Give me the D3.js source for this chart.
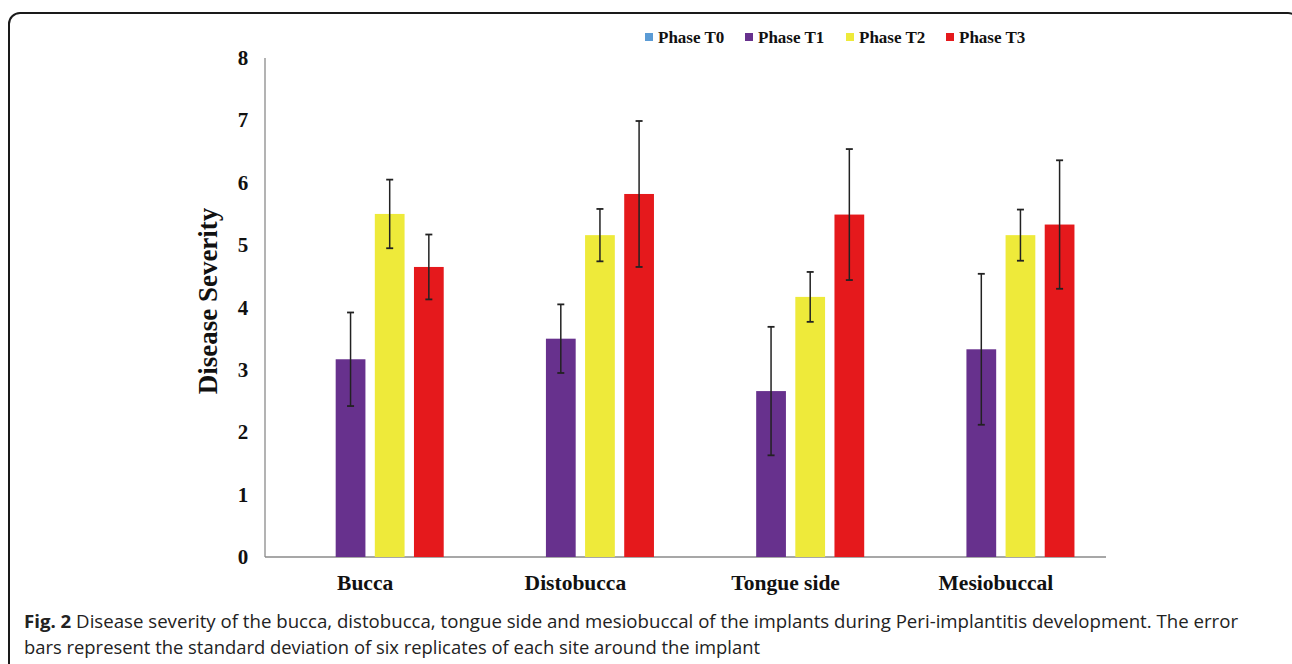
<!DOCTYPE html>
<html>
<head>
<meta charset="utf-8">
<script src="https://cdn.jsdelivr.net/npm/d3@7"></script>
<style>
  body { margin: 0; background: #fff; }
</style>
</head>
<body>
<div class="container"></div>
<script>
// data
var sites = ["Bucca", "Distobucca", "Tongue side", "Mesiobuccal"];
var phases = ["Phase T0", "Phase T1", "Phase T2", "Phase T3"];
var phaseT0 = [0, 0, 0, 0];
var phaseT1 = [3.17, 3.50, 2.66, 3.33];
var phaseT2 = [5.50, 5.16, 4.17, 5.16];
var phaseT3 = [4.65, 5.82, 5.49, 5.33];
var sdT1 = [0.75, 0.55, 1.03, 1.21];
var sdT2 = [0.55, 0.42, 0.40, 0.41];
var sdT3 = [0.52, 1.17, 1.05, 1.03];
var yTicks = [0, 1, 2, 3, 4, 5, 6, 7, 8];
var colors = ["#5b9bd5", "#67318d", "#eeea3a", "#e5191c"];

var values = [phaseT0, phaseT1, phaseT2, phaseT3];
var sds = [null, sdT1, sdT2, sdT3];

//Makes the stage
function makeStage(w, h) {
    return d3.select(".container")
      .append("svg")
      .attr("width", w)
      .attr("height", h)
      .style("display", "block");
}

var W = 1292, H = 664;
var svg = makeStage(W, H);

// frame around figure
svg.append("rect")
  .attr("x", 9).attr("y", 13)
  .attr("width", 1290).attr("height", 720)
  .attr("rx", 11).attr("ry", 11)
  .attr("fill", "none")
  .attr("stroke", "#1a1a1a")
  .attr("stroke-width", 2);

var plotL = 265, plotR = 1106, plotT = 58, plotB = 557;

var x0 = d3.scaleBand().domain(sites).range([plotL, plotR]).paddingInner(0.3).paddingOuter(0.15);
var x1 = d3.scaleBand().domain(phases).range([0, x0.bandwidth()]).paddingInner(0.24);
var y = d3.scaleLinear().domain([0, 8]).range([plotB, plotT]);

// axes lines
svg.append("line")
  .attr("x1", plotL).attr("x2", plotL)
  .attr("y1", y(8)).attr("y2", plotB)
  .attr("stroke", "#8a8a8a").attr("stroke-width", 1.3);
svg.append("line")
  .attr("x1", plotL).attr("x2", plotR)
  .attr("y1", plotB).attr("y2", plotB)
  .attr("stroke", "#8a8a8a").attr("stroke-width", 1.5);

// y tick labels
svg.selectAll(".ytick")
  .data(yTicks)
  .enter().append("text")
  .attr("x", 243)
  .attr("y", function (d) { return y(d) + 7; })
  .attr("text-anchor", "middle")
  .attr("font-family", "Liberation Serif, serif")
  .attr("font-weight", "bold")
  .attr("font-size", 21)
  .attr("fill", "#111")
  .text(function (d) { return d; });

// y title
svg.append("text")
  .attr("transform", "translate(217,301) rotate(-90)")
  .attr("text-anchor", "middle")
  .attr("font-family", "Liberation Serif, serif")
  .attr("font-weight", "bold")
  .attr("font-size", 27)
  .attr("fill", "#111")
  .text("Disease Severity");

// category labels
svg.selectAll(".xlab")
  .data(sites)
  .enter().append("text")
  .attr("x", function (d) { return x0(d) + x0.bandwidth() / 2 - 5; })
  .attr("y", 590)
  .attr("text-anchor", "middle")
  .attr("font-family", "Liberation Serif, serif")
  .attr("font-weight", "bold")
  .attr("font-size", 21.5)
  .attr("fill", "#111")
  .text(function (d) { return d; });

// bars + error bars
phases.forEach(function (p, pi) {
    var g = svg.append("g");
    g.selectAll("rect")
      .data(sites)
      .enter().append("rect")
      .attr("x", function (d) { return x0(d) + x1(p); })
      .attr("y", function (d, i) { return y(values[pi][i]); })
      .attr("width", x1.bandwidth())
      .attr("height", function (d, i) { return plotB - y(values[pi][i]); })
      .attr("fill", colors[pi]);

    if (sds[pi]) {
        var eb = g.selectAll(".err")
          .data(sites)
          .enter().append("g");
        eb.append("line")
          .attr("x1", function (d) { return x0(d) + x1(p) + x1.bandwidth() / 2; })
          .attr("x2", function (d) { return x0(d) + x1(p) + x1.bandwidth() / 2; })
          .attr("y1", function (d, i) { return y(values[pi][i] + sds[pi][i]); })
          .attr("y2", function (d, i) { return y(values[pi][i] - sds[pi][i]); })
          .attr("stroke", "#222").attr("stroke-width", 1.5);
        [1, -1].forEach(function (s) {
            eb.append("line")
              .attr("x1", function (d) { return x0(d) + x1(p) + x1.bandwidth() / 2 - 3.5; })
              .attr("x2", function (d) { return x0(d) + x1(p) + x1.bandwidth() / 2 + 3.5; })
              .attr("y1", function (d, i) { return y(values[pi][i] + s * sds[pi][i]); })
              .attr("y2", function (d, i) { return y(values[pi][i] + s * sds[pi][i]); })
              .attr("stroke", "#222").attr("stroke-width", 1.8);
        });
    }
});

// legend
var legX = [645, 745, 846, 946];
var leg = svg.selectAll(".leg")
  .data(phases)
  .enter().append("g")
  .attr("transform", function (d, i) { return "translate(" + legX[i] + ",33)"; });
leg.append("rect")
  .attr("width", 8).attr("height", 8)
  .attr("fill", function (d, i) { return colors[i]; });
leg.append("text")
  .attr("x", 13).attr("y", 9.5)
  .attr("font-family", "Liberation Serif, serif")
  .attr("font-weight", "bold")
  .attr("font-size", 17)
  .attr("fill", "#111")
  .text(function (d) { return d; });

// caption
var cap = svg.append("text")
  .attr("x", 24).attr("y", 628)
  .attr("font-family", "Open Sans, sans-serif")
  .attr("font-size", 18.65)
  .attr("fill", "#222");
cap.append("tspan").attr("font-weight", "bold").text("Fig. 2");
cap.append("tspan").text(" Disease severity of the bucca, distobucca, tongue side and mesiobuccal of the implants during Peri-implantitis development. The error");
svg.append("text")
  .attr("x", 24).attr("y", 654)
  .attr("font-family", "Open Sans, sans-serif")
  .attr("font-size", 18.4)
  .attr("fill", "#222")
  .text("bars represent the standard deviation of six replicates of each site around the implant");
</script>
</body>
</html>
